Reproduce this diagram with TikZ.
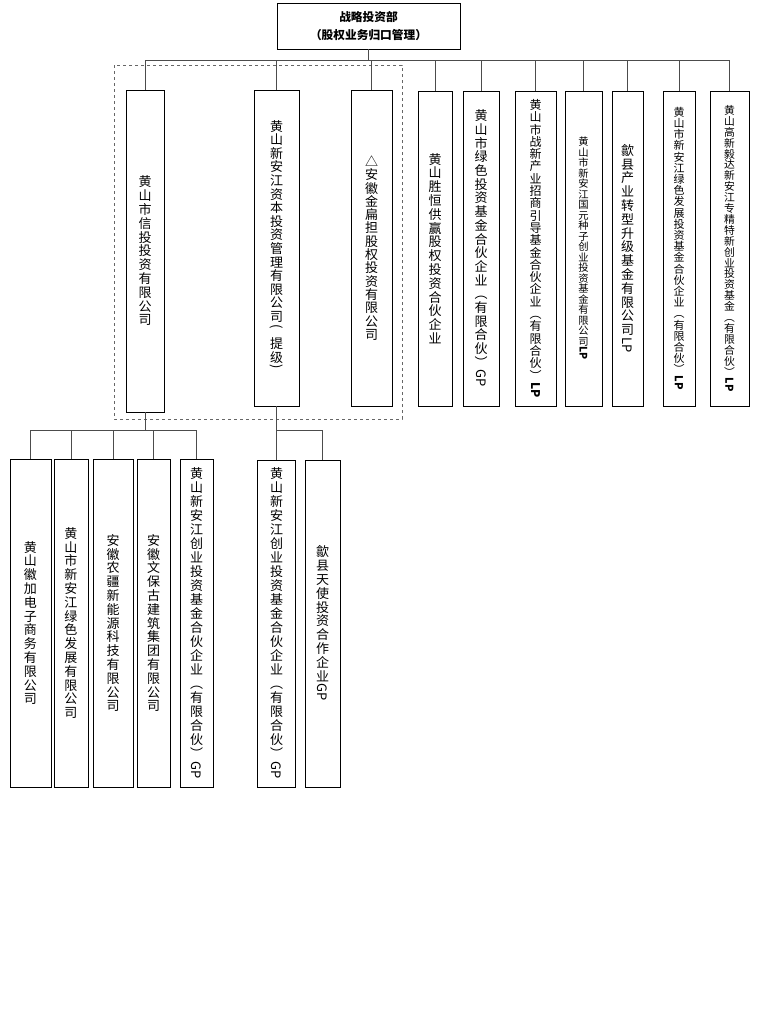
\documentclass[tikz,border=0pt]{standalone}
\usepackage{fontspec}
\setmainfont{Noto Sans CJK SC}
\usepackage{graphicx}
\usetikzlibrary{positioning}
\lineskiplimit=-100pt
\newcommand\vopen{︵}
\newcommand\vclose{︶}
\newcommand\lat[1]{\raisebox{.85em}{\rotatebox{-90}{#1}}}
\makeatletter
\newcommand\vchars[1]{\let\vc@sep\relax\@tfor\vc@item:=#1\do{\vc@sep\vc@item\let\vc@sep\\}}
\makeatother
\tikzset{%
	unit/.style  = {draw, line width=0.7pt, inner sep=0pt, text width=16pt, align=center, font=\fontsize{13}{13.8}\selectfont},
	head/.style  = {draw, line width=0.7pt, inner sep=0pt, align=center, font=\bfseries\fontsize{11.7}{18}\selectfont},
	link/.style  = {draw=black!70, line width=0.6pt},
	group/.style = {draw=black!60, dashed, line width=0.6pt},
}
\begin{document}
\begin{tikzpicture}[x=1pt,y=-1pt]
	\useasboundingbox (0,0) rectangle (760,1028);
	\node[head, minimum width=183pt, minimum height=46pt] (hq) at (368.5,26) {战略投资部\\（股权业务归口管理）};
	% first level
	\node[unit, minimum width=38pt, minimum height=322pt] (xt) at (145,251) {\vchars{黄山市信投投资有限公司}};
	\node[unit, minimum width=45pt, minimum height=316pt, font=\fontsize{13}{13.6}\selectfont] (xaj) at (276.5,248) {\vchars{黄山新安江资本投资管理有限公司{\lat(}提级{\lat)}}};
	\node[unit, minimum width=41pt, minimum height=316pt, font=\fontsize{13}{13.3}\selectfont] (jbd) at (371.5,248) {\vchars{△安徽金扁担股权投资有限公司}};
	\node[unit, minimum width=34pt, minimum height=315pt] (sh) at (435,248.5) {\vchars{黄山胜恒供赢股权投资合伙企业}};
	\node[unit, minimum width=36pt, minimum height=315pt, font=\fontsize{13}{13.7}\selectfont] (ls) at (481,248.5) {\vchars{黄山市绿色投资基金合伙企业{\vopen}有限合伙{\vclose}{\lat{GP}}}};
	\node[unit, minimum width=41pt, minimum height=315pt, font=\fontsize{12}{12.3}\selectfont] (zx) at (535.5,248.5) {\vchars{黄山市战新产业招商引导基金合伙企业{\vopen}有限合伙{\vclose}{\lat{\textbf{LP}}}}};
	\node[unit, minimum width=37pt, minimum height=315pt, font=\fontsize{10.3}{10.5}\selectfont] (gy) at (583.5,248.5) {\vchars{黄山市新安江国元种子创业投资基金有限公司{\lat{\textbf{LP}}}}};
	\node[unit, minimum width=31pt, minimum height=315pt] (cy) at (627.5,248.5) {\vchars{歙县产业转型升级基金有限公司{\lat{LP}}}};
	\node[unit, minimum width=32pt, minimum height=315pt, font=\fontsize{11}{11.2}\selectfont] (lf) at (679,248.5) {\vchars{黄山市新安江绿色发展投资基金合伙企业{\vopen}有限合伙{\vclose}{\lat{\textbf{LP}}}}};
	\node[unit, minimum width=39pt, minimum height=315pt, font=\fontsize{10.8}{10.9}\selectfont] (yd) at (729.5,248.5) {\vchars{黄山高新毅达新安江专精特新创业投资基金{\vopen}有限合伙{\vclose}{\lat{\textbf{LP}}}}};
	\draw[group] (114,65) rectangle (402,419);
	% second level
	\node[unit, minimum width=41pt, minimum height=328pt] (hj) at (30.5,623) {\vchars{黄山徽加电子商务有限公司}};
	\node[unit, minimum width=34pt, minimum height=328pt] (lsfz) at (71,623) {\vchars{黄山市新安江绿色发展有限公司}};
	\node[unit, minimum width=40pt, minimum height=328pt] (nj) at (113,623) {\vchars{安徽农疆新能源科技有限公司}};
	\node[unit, minimum width=33pt, minimum height=328pt] (wb) at (153.5,623) {\vchars{安徽文保古建筑集团有限公司}};
	\node[unit, minimum width=33pt, minimum height=328pt, font=\fontsize{13}{14}\selectfont] (cyx) at (196.5,623) {\vchars{黄山新安江创业投资基金合伙企业{\vopen}有限合伙{\vclose}{\lat{GP}}}};
	\node[unit, minimum width=38pt, minimum height=327pt, font=\fontsize{13}{14}\selectfont] (cyz) at (276.5,623.5) {\vchars{黄山新安江创业投资基金合伙企业{\vopen}有限合伙{\vclose}{\lat{GP}}}};
	\node[unit, minimum width=35pt, minimum height=327pt] (ts) at (322.5,623.5) {\vchars{歙县天使投资合作企业{\lat{GP}}}};
	% connectors
	\coordinate (bus) at (368.5,60);
	\coordinate (xtbus) at (145,430);
	\coordinate (xajbus) at (276.5,430);
	\draw[link, thick] (hq) -- (bus);
	\foreach \n in {xt,xaj,jbd,sh,ls,zx,gy,cy,lf,yd} \draw[link] (bus) -| (\n);
	\draw[link, thick] (xt) -- (xtbus);
	\foreach \n in {hj,lsfz,nj,wb,cyx} \draw[link] (xtbus) -| (\n);
	\draw[link] (xaj) -- (xajbus);
	\foreach \n in {cyz,ts} \draw[link] (xajbus) -| (\n);
\end{tikzpicture}
\end{document}
